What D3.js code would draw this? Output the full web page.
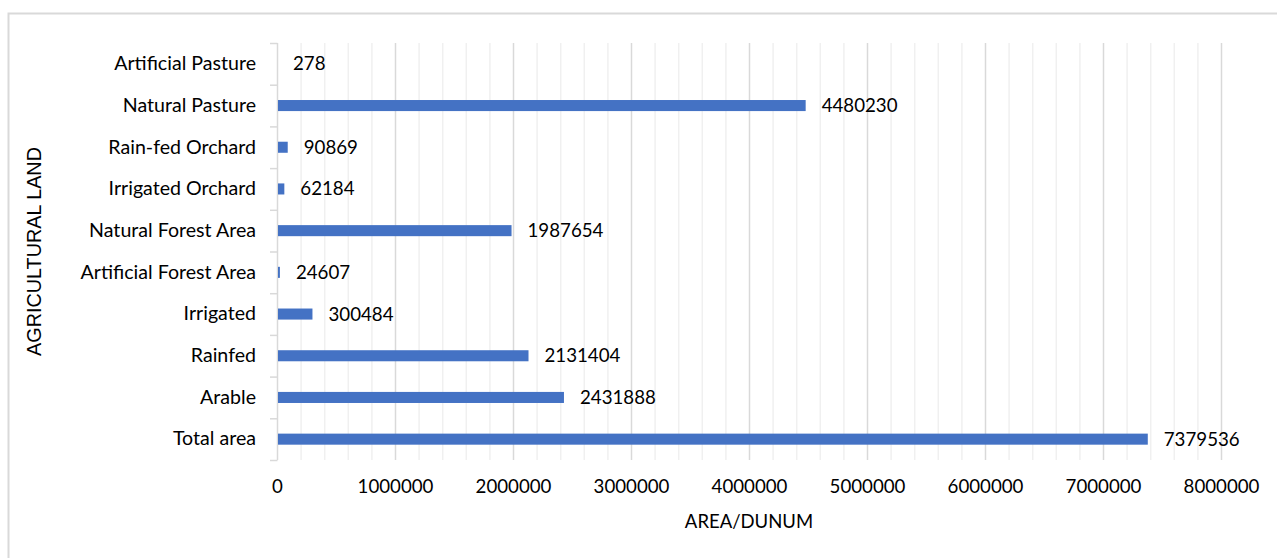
<!DOCTYPE html>
<html>
<head>
<meta charset="utf-8">
<script src="https://cdn.jsdelivr.net/npm/d3@7"></script>
<style>
  html, body { margin: 0; padding: 0; background: #fff; }
  svg { display: block; }
</style>
</head>
<body>
<svg id="chart" width="1277" height="558"></svg>
<script>
const categories = ["Total area", "Arable", "Rainfed", "Irrigated", "Artificial Forest Area",
  "Natural Forest Area", "Irrigated Orchard", "Rain-fed Orchard", "Natural Pasture", "Artificial Pasture"];
const values = [7379536, 2431888, 2131404, 300484, 24607, 1987654, 62184, 90869, 4480230, 278];
const xTicks = [0, 1000000, 2000000, 3000000, 4000000, 5000000, 6000000, 7000000, 8000000];
const xTitle = "AREA/DUNUM";
const yTitle = "AGRICULTURAL LAND";

const svg = d3.select("#chart");
const W = 1277, H = 558;
const m = { left: 277, right: 56, top: 43, bottom: 98 };
const FONT = "Lato, 'Open Sans', sans-serif";

// outer border
svg.append("rect")
  .attr("x", 8.5).attr("y", 13.5)
  .attr("width", W + 20).attr("height", H + 20)
  .attr("fill", "#fff").attr("stroke", "#d9d9d9").attr("stroke-width", 2);

const x = d3.scaleLinear().domain([0, 8000000]).range([m.left, W - m.right]);
const y = d3.scaleBand().domain(categories.slice().reverse()).range([m.top, H - m.bottom]).padding(0);

// minor gridlines
const minor = d3.range(0, 8000001, 200000).filter(v => v % 1000000 !== 0);
svg.append("g").selectAll("line").data(minor).join("line")
  .attr("x1", d => x(d) + 0.5).attr("x2", d => x(d) + 0.5)
  .attr("y1", m.top).attr("y2", H - m.bottom)
  .attr("stroke", "#f0f0f0").attr("stroke-width", 1.5);

// major gridlines
svg.append("g").selectAll("line").data(xTicks.filter(v => v > 0)).join("line")
  .attr("x1", d => x(d) + 0.5).attr("x2", d => x(d) + 0.5)
  .attr("y1", m.top).attr("y2", H - m.bottom)
  .attr("stroke", "#d9d9d9").attr("stroke-width", 1.5);

// x axis labels
const xAxis = d3.axisBottom(x).tickValues(xTicks).tickFormat(d3.format("d")).tickSize(0).tickPadding(20);
const gx = svg.append("g").attr("transform", `translate(0,${H - m.bottom})`).call(xAxis);
gx.select(".domain").remove();
gx.selectAll("text").attr("font-family", FONT).attr("font-size", 18.7).attr("fill", "#000");

// y axis
const yAxis = d3.axisLeft(y).tickSize(0).tickPadding(21);
const gy = svg.append("g").attr("transform", `translate(${m.left},0)`).call(yAxis);
gy.select(".domain").attr("stroke", "#d9d9d9").attr("stroke-width", 1.5)
  .attr("d", `M0.5,${m.top}V${H - m.bottom}`);
gy.selectAll("text").attr("font-family", FONT).attr("font-size", 19.6).attr("fill", "#000");
// boundary tick marks
const bounds = d3.range(categories.length + 1).map(i => m.top + i * y.step());
svg.append("g").selectAll("line").data(bounds).join("line")
  .attr("x1", m.left - 7).attr("x2", m.left + 0.5)
  .attr("y1", d => d + 0.5).attr("y2", d => d + 0.5)
  .attr("stroke", "#d9d9d9").attr("stroke-width", 1.5);

// bars
const barH = y.bandwidth() * 0.265;
svg.append("g").selectAll("rect").data(categories).join("rect")
  .attr("x", x(0) + 1)
  .attr("y", d => y(d) + y.bandwidth() / 2 - barH / 2)
  .attr("width", (d, i) => Math.max(0, x(values[i]) - x(0) - 1))
  .attr("height", barH)
  .attr("fill", "#4472c4");

// data labels
svg.append("g").selectAll("text").data(categories).join("text")
  .attr("x", (d, i) => x(values[i]) + 16)
  .attr("y", d => y(d) + y.bandwidth() / 2)
  .attr("dy", "0.35em")
  .attr("font-family", FONT).attr("font-size", 18.7).attr("fill", "#000")
  .text((d, i) => values[i]);

// axis titles
svg.append("text")
  .attr("x", (x(0) + x(8000000)) / 2).attr("y", 528)
  .attr("text-anchor", "middle")
  .attr("font-family", FONT).attr("font-size", 18.5).attr("fill", "#000")
  .text(xTitle);

svg.append("text")
  .attr("transform", `translate(41,${(m.top + H - m.bottom) / 2}) rotate(-90)`)
  .attr("text-anchor", "middle")
  .attr("font-family", "'Liberation Sans', Arial, sans-serif").attr("font-size", 19.8).attr("fill", "#000")
  .text(yTitle);
</script>
</body>
</html>
